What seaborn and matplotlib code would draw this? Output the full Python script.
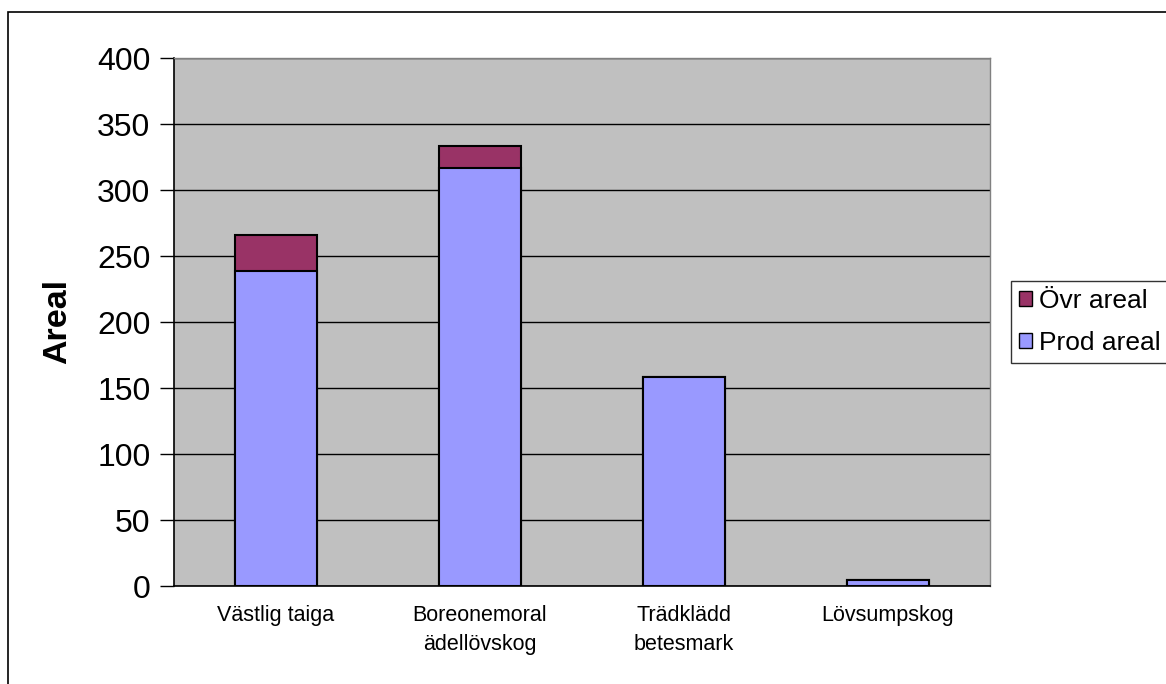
import matplotlib
matplotlib.use("Agg")
import matplotlib.pyplot as plt
import seaborn as sns
import pandas as pd
from matplotlib.patches import Patch, Rectangle

categories = ["Västlig taiga", "Boreonemoral\nädellövskog", "Trädklädd\nbetesmark", "Lövsumpskog"]
prod_areal = [239, 317, 158, 4.5]
ovr_areal = [27, 16, 0, 0]
yticks = [0, 50, 100, 150, 200, 250, 300, 350, 400]

sns.set_theme(style="white")
plt.rcParams['font.family'] = ['Liberation Sans', 'DejaVu Sans']
plt.rcParams['text.color'] = 'black'
plt.rcParams['xtick.color'] = 'black'
plt.rcParams['ytick.color'] = 'black'
plt.rcParams['axes.labelcolor'] = 'black'

df = pd.DataFrame({"kat": categories, "prod": prod_areal,
                   "total": [p + o for p, o in zip(prod_areal, ovr_areal)]})

fig = plt.figure(figsize=(11.66, 6.84), dpi=100)
ax = fig.add_axes([174/1166, 1 - 586/684, (990-174)/1166, (586-58)/684])
ax.set_facecolor("#C0C0C0")

sns.barplot(data=df, x="kat", y="total", color="#993366", saturation=1,
            width=0.4, edgecolor="black", linewidth=1.5, ax=ax, zorder=3)
sns.barplot(data=df, x="kat", y="prod", color="#9999FF", saturation=1,
            width=0.4, edgecolor="black", linewidth=1.5, ax=ax, zorder=4)

ax.set_xlim(-0.5, 3.5)
ax.set_ylim(0, 400)
ax.set_yticks(yticks)
ax.set_yticklabels([str(t) for t in yticks], fontsize=23, color="black")
ax.yaxis.grid(True, color="black", linewidth=1, zorder=1)
ax.set_axisbelow(True)

ax.set_xticks([i + 0.5 for i in range(-1, 4)])
ax.set_xticklabels([])
ax.set_xticks(range(len(categories)), minor=True)
ax.set_xticklabels(categories, minor=True, fontsize=15.5, linespacing=1.5, color="black")
ax.tick_params(axis="x", which="major", direction="out", length=6, width=1, color="black")
ax.tick_params(axis="x", which="minor", length=0, pad=14)
ax.tick_params(axis="y", direction="out", length=10, width=1, color="black", pad=7, left=True)

ax.set_xlabel("")
ax.set_ylabel("Areal", fontsize=24.5, fontweight="bold", labelpad=17, color="black")

for s in ["left", "bottom"]:
    ax.spines[s].set_color("black")
    ax.spines[s].set_linewidth(1.2)
for s in ["top", "right"]:
    ax.spines[s].set_color("#808080")
    ax.spines[s].set_linewidth(1)

handles = [Patch(facecolor="#993366", edgecolor="black", label="Övr areal"),
           Patch(facecolor="#9999FF", edgecolor="black", label="Prod areal")]
leg = fig.legend(handles=handles, loc="upper left", bbox_to_anchor=(1011/1166, 1 - 281/684),
                 fontsize=19, frameon=True, fancybox=False, handlelength=0.5, handleheight=0.5,
                 handletextpad=0.25, borderpad=0.3, labelspacing=0.68, borderaxespad=0)
leg.get_frame().set_edgecolor("black")
leg.get_frame().set_linewidth(1)

fig.patches.append(Rectangle((8/1166, -0.1), 1.2, 1 - 12/684 + 0.1, transform=fig.transFigure,
                             fill=False, edgecolor="black", linewidth=1.2))

fig.savefig("out.png", dpi=100)
